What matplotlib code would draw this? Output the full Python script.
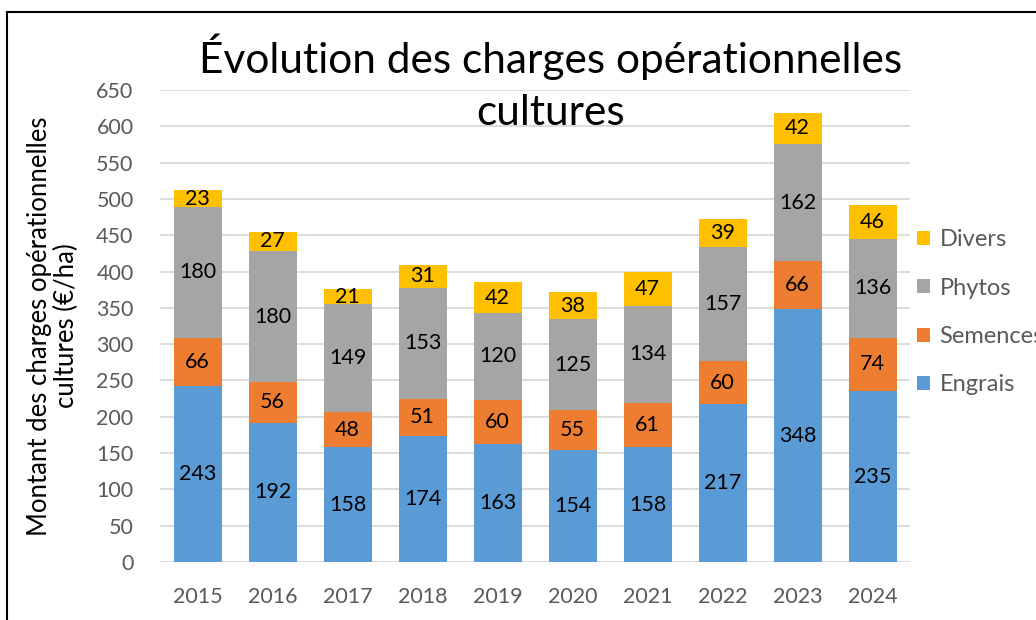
"""
Stacked bar chart: evolution of crop operating costs (EUR/ha), 2015-2024.
Saves out.png
"""

import matplotlib.pyplot as plt
import matplotlib.patches as mpatches
import numpy as np

years = ["2015", "2016", "2017", "2018", "2019", "2020", "2021", "2022", "2023", "2024"]
engrais = [243, 192, 158, 174, 163, 154, 158, 217, 348, 235]
semences = [66, 56, 48, 51, 60, 55, 61, 60, 66, 74]
phytos = [180, 180, 149, 153, 120, 125, 134, 157, 162, 136]
divers = [23, 27, 21, 31, 42, 38, 47, 39, 42, 46]

series_names = ["Engrais", "Semences", "Phytos", "Divers"]
series_colors = ["#5B9BD5", "#ED7D31", "#A5A5A5", "#FFC000"]

plt.rcParams["font.family"] = ["Lato", "DejaVu Sans"]

W, H = 1036, 620
fig = plt.figure(figsize=(W / 100, H / 100), dpi=100)

# plot area in pixels: x 160..910, y 90..562
ax = fig.add_axes([160 / W, (H - 562) / H, 750 / W, 472 / H])

x = np.arange(len(years))
bottom = np.zeros(len(years))
handles = []
for name, vals, col in zip(series_names, [engrais, semences, phytos, divers], series_colors):
    bars = ax.bar(x, vals, width=0.64, bottom=bottom, color=col, label=name, zorder=3)
    ax.bar_label(bars, labels=[str(v) for v in vals], label_type="center",
                 fontsize=15.5, color="black", zorder=4)
    bottom += np.array(vals)
    handles.append(bars)

ax.set_xlim(-0.5, len(years) - 0.5)
ax.set_ylim(0, 650)
ax.set_yticks(np.arange(0, 651, 50))
ax.set_xticks(x)
ax.set_xticklabels(years)
ax.tick_params(axis="both", length=0, labelsize=15.5, labelcolor="#595959")
ax.tick_params(axis="y", pad=19)
ax.tick_params(axis="x", pad=18)
ax.grid(axis="y", color="#D9D9D9", linewidth=1.3, zorder=0)
for s in ax.spines.values():
    s.set_visible(False)

# title
fig.text(551 / W, 1 - 83 / H, "Évolution des charges opérationnelles\ncultures",
         ha="center", va="center", fontsize=30.5, linespacing=1.45)

# y label
fig.text(53 / W, 1 - 326 / H, "Montant des charges opérationnelles\ncultures (€/ha)",
         rotation=90, ha="center", va="center", fontsize=18.5, linespacing=1.1)

# legend (reversed so Divers on top), runs off the right edge like the original
leg = fig.legend(handles[::-1], series_names[::-1], loc="upper left",
                 bbox_to_anchor=(896 / W, 1 - 208 / H), frameon=False,
                 fontsize=17, labelcolor="#595959", handlelength=0.55,
                 handleheight=0.55, handletextpad=0.4, labelspacing=1.16)

# chart border
fig.patches.append(mpatches.Rectangle((7 / W, -0.1), 1.2, 0.1 + (H - 12) / H,
                                      transform=fig.transFigure, fill=False,
                                      edgecolor="black", linewidth=1.5))

fig.savefig("out.png", dpi=100)
